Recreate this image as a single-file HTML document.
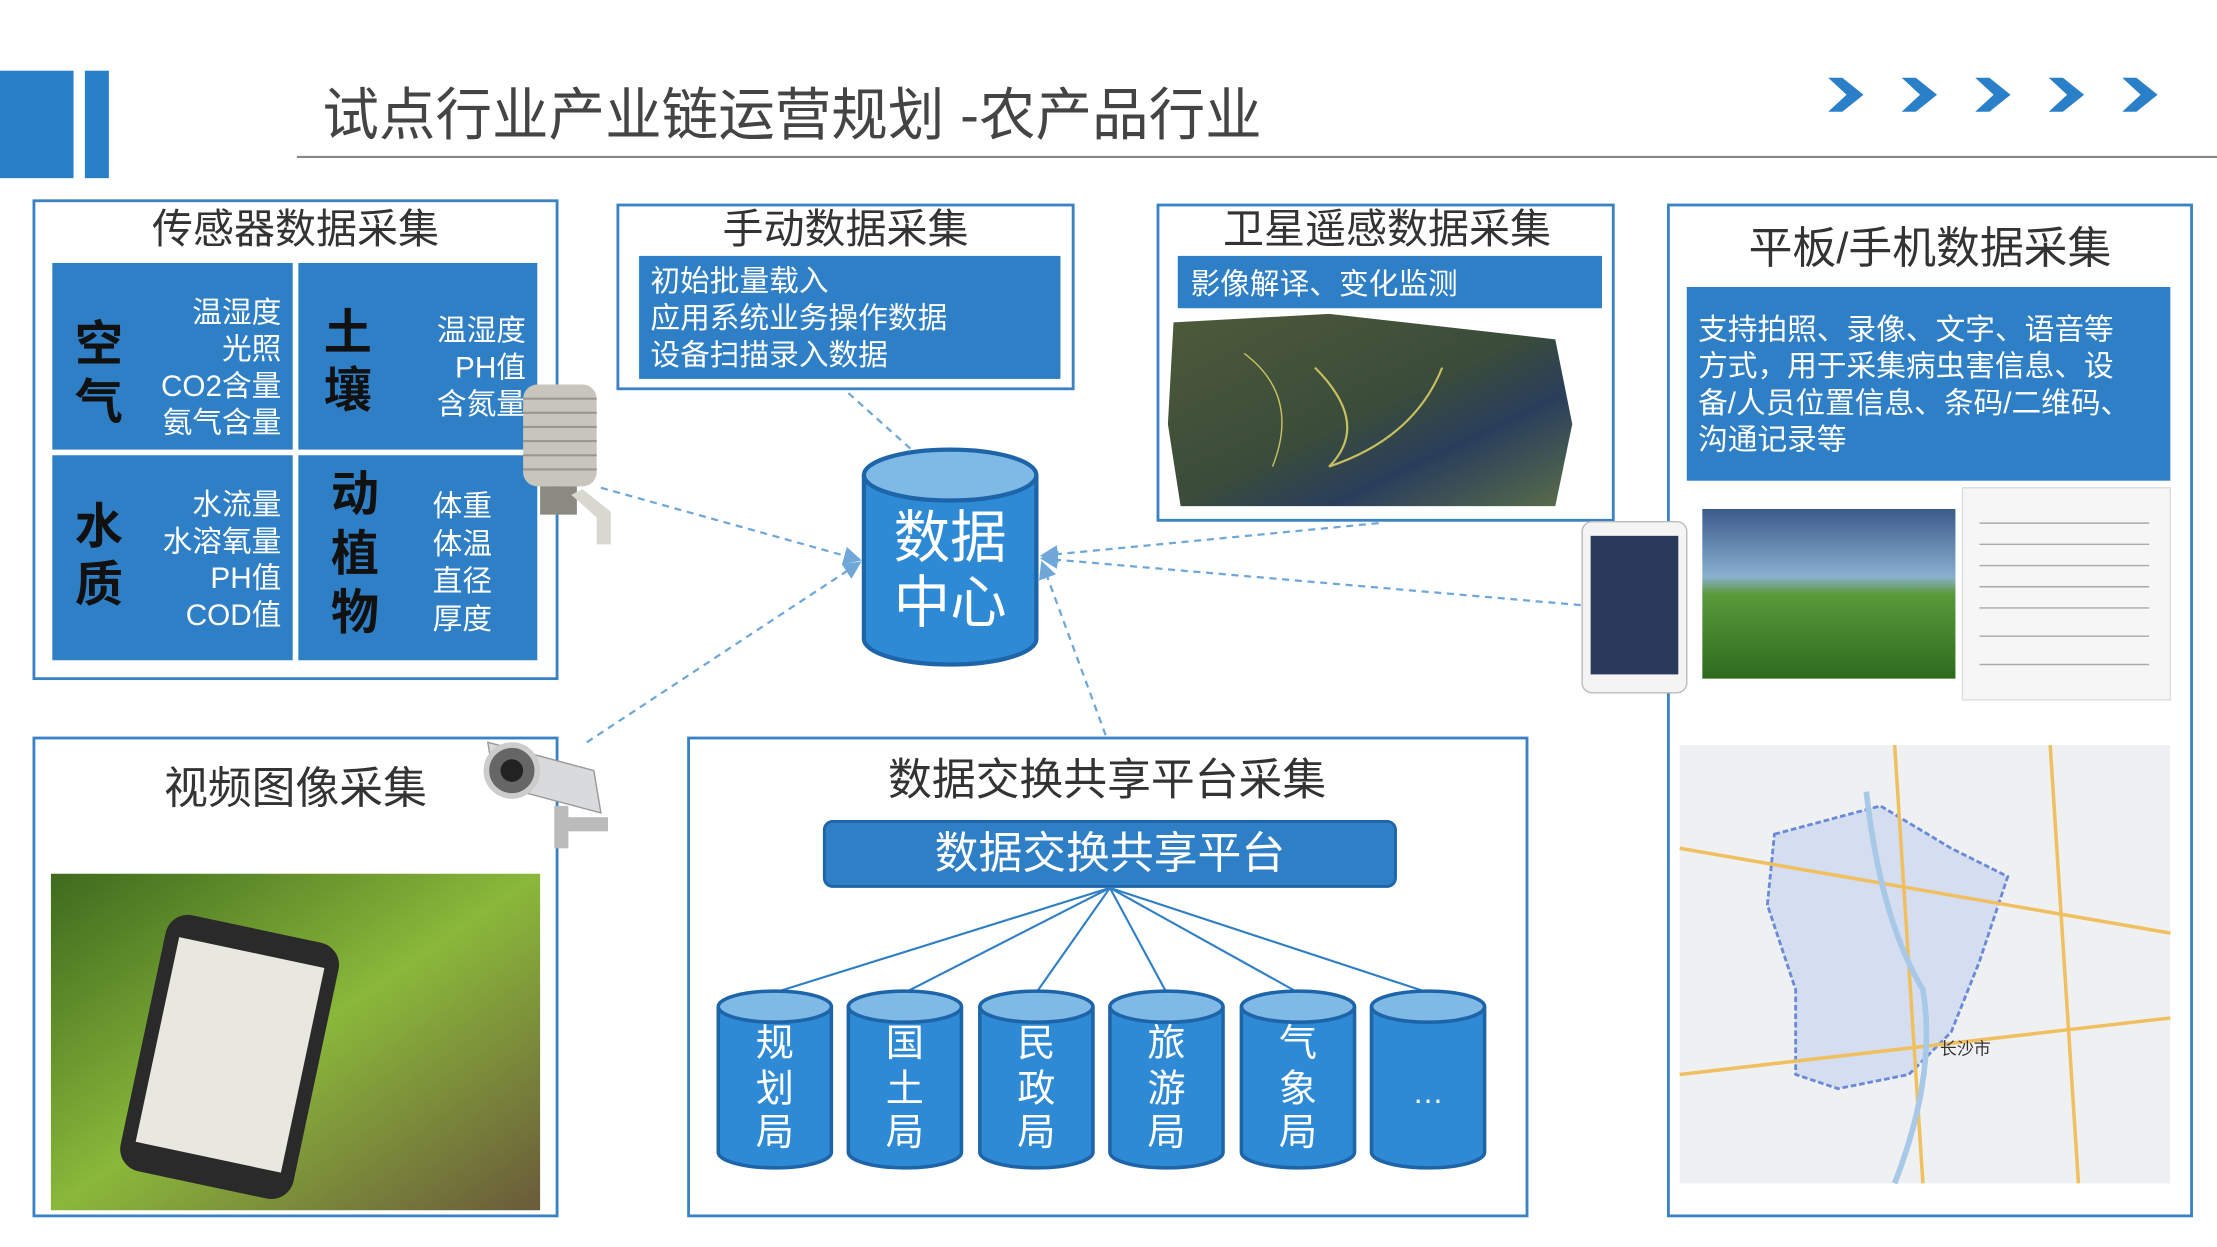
<!DOCTYPE html>
<html><head><meta charset="utf-8"><style>
html,body{margin:0;padding:0;background:#fff;}
svg{display:block;}
text{font-family:"Liberation Sans","Noto Sans CJK SC",sans-serif;}
</style></head><body>
<svg width="2217" height="1247" viewBox="0 0 1568 882" preserveAspectRatio="none" xmlns="http://www.w3.org/2000/svg">
<defs>
<marker id="ar" markerWidth="8" markerHeight="8" refX="7" refY="4" orient="auto"><path d="M0,0 L8,4 L0,8 Z" fill="#6fa8d8"/></marker>
<linearGradient id="sat" x1="0" y1="0" x2="1" y2="1"><stop offset="0" stop-color="#4e5a3a"/><stop offset="0.5" stop-color="#3a4c3a"/><stop offset="0.7" stop-color="#2a3e5c"/><stop offset="1" stop-color="#5a6e4a"/></linearGradient>
<linearGradient id="gh" x1="0" y1="0" x2="0" y2="1"><stop offset="0" stop-color="#3a5a8a"/><stop offset="0.4" stop-color="#8ab0d0"/><stop offset="0.5" stop-color="#5a9a3a"/><stop offset="1" stop-color="#2e6a1e"/></linearGradient>
<linearGradient id="corn" x1="0" y1="0" x2="1" y2="1"><stop offset="0" stop-color="#3e6a1e"/><stop offset="0.5" stop-color="#8ab83a"/><stop offset="1" stop-color="#6a5a3a"/></linearGradient>
</defs>
<!-- header -->
<rect x="0" y="50" width="52" height="76" fill="#2a7fc9"/>
<rect x="60" y="50" width="17" height="76" fill="#2a7fc9"/>
<text x="228" y="95" font-size="40" fill="#444">试点行业产业链运营规划 -农产品行业</text>
<line x1="210" y1="111" x2="1568" y2="111" stroke="#888" stroke-width="1.5"/>
<g fill="#2a7fc9">
<path d="M1293 55 L1303 55 L1318 67 L1303 79 L1293 79 L1306 67 Z"/>
<path d="M1345 55 L1355 55 L1370 67 L1355 79 L1345 79 L1358 67 Z"/>
<path d="M1397 55 L1407 55 L1422 67 L1407 79 L1397 79 L1410 67 Z"/>
<path d="M1449 55 L1459 55 L1474 67 L1459 79 L1449 79 L1462 67 Z"/>
<path d="M1501 55 L1511 55 L1526 67 L1511 79 L1501 79 L1514 67 Z"/>
</g>

<!-- dashed connectors -->
<g stroke="#6fa8d8" stroke-width="1.6" stroke-dasharray="5,4" fill="none" marker-end="url(#ar)">
<line x1="425" y1="345" x2="608" y2="396"/>
<line x1="415" y1="525" x2="608" y2="398"/>
<line x1="600" y1="278" x2="667" y2="338"/>
<line x1="975" y1="370" x2="737" y2="393"/>
<line x1="1118" y1="428" x2="737" y2="395"/>
<line x1="782" y1="520" x2="737" y2="398"/>
</g>

<!-- sensor box -->
<rect x="24" y="142" width="370" height="338" fill="#fff" stroke="#3b82c4" stroke-width="2"/>
<text x="209" y="172" font-size="29" fill="#333" text-anchor="middle">传感器数据采集</text>
<rect x="37" y="186" width="170" height="132" fill="#2e7fc6"/>
<rect x="211" y="186" width="169" height="132" fill="#2e7fc6"/>
<rect x="37" y="322" width="170" height="145" fill="#2e7fc6"/>
<rect x="211" y="322" width="169" height="145" fill="#2e7fc6"/>
<g font-size="34" font-weight="bold" fill="#111" text-anchor="middle">
<text x="70" y="255">空</text><text x="70" y="296">气</text>
<text x="246" y="247">土</text><text x="246" y="288">壤</text>
<text x="70" y="384">水</text><text x="70" y="425">质</text>
<text x="251" y="361">动</text><text x="251" y="403">植</text><text x="251" y="445">物</text>
</g>
<g font-size="21" fill="#fff" text-anchor="end">
<text x="199" y="228">温湿度</text><text x="199" y="254">光照</text><text x="199" y="280">CO2含量</text><text x="199" y="306">氨气含量</text>
<text x="372" y="241">温湿度</text><text x="372" y="267">PH值</text><text x="372" y="293">含氮量</text>
<text x="199" y="364">水流量</text><text x="199" y="390">水溶氧量</text><text x="199" y="416">PH值</text><text x="199" y="442">COD值</text>
</g>
<g font-size="21" fill="#fff"><text x="306" y="365">体重</text><text x="306" y="392">体温</text><text x="306" y="418">直径</text><text x="306" y="445">厚度</text></g>
<!-- sensor device -->
<g>
<rect x="370" y="272" width="52" height="72" rx="10" fill="#c8c6bc"/>
<g stroke="#9a988e" stroke-width="1.5"><line x1="370" y1="282" x2="422" y2="282"/><line x1="370" y1="292" x2="422" y2="292"/><line x1="370" y1="302" x2="422" y2="302"/><line x1="370" y1="312" x2="422" y2="312"/><line x1="370" y1="322" x2="422" y2="322"/><line x1="370" y1="332" x2="422" y2="332"/></g>
<rect x="382" y="344" width="26" height="20" fill="#8a8a80"/>
<path d="M404 350 L422 366 L422 385 L432 385 L432 362 L412 346 Z" fill="#d8d8d0"/>
</g>

<!-- manual box -->
<rect x="437" y="145" width="322" height="130" fill="#fff" stroke="#3b82c4" stroke-width="2"/>
<text x="598" y="172" font-size="29" fill="#333" text-anchor="middle">手动数据采集</text>
<rect x="452" y="181" width="298" height="87" fill="#2e7fc6"/>
<g font-size="21" fill="#fff"><text x="460" y="206">初始批量载入</text><text x="460" y="232">应用系统业务操作数据</text><text x="460" y="258">设备扫描录入数据</text></g>

<!-- satellite box -->
<rect x="819" y="145" width="322" height="223" fill="#fff" stroke="#3b82c4" stroke-width="2"/>
<text x="981" y="172" font-size="29" fill="#333" text-anchor="middle">卫星遥感数据采集</text>
<rect x="833" y="181" width="300" height="37" fill="#2e7fc6"/>
<text x="842" y="208" font-size="21" fill="#fff">影像解译、变化监测</text>
<path d="M830 228 L940 222 L1100 240 L1112 300 L1100 358 L835 358 L826 300 Z" fill="url(#sat)"/>
<path d="M930 260 Q970 300 940 330 Q1000 310 1020 260" stroke="#c8c060" stroke-width="1.5" fill="none"/>
<path d="M880 250 Q920 280 900 330" stroke="#c8c060" stroke-width="1" fill="none"/>

<!-- data center cylinder -->
<path d="M611 336 L611 452 A61 18 0 0 0 733 452 L733 336" fill="#2e8ad4" stroke="#1e64a8" stroke-width="3"/>
<ellipse cx="672" cy="336" rx="61" ry="18" fill="#7fb9e6" stroke="#1e64a8" stroke-width="3"/>
<text x="672" y="394" font-size="40" fill="#fff" text-anchor="middle">数据</text>
<text x="672" y="440" font-size="40" fill="#fff" text-anchor="middle">中心</text>

<!-- tablet box -->
<rect x="1180" y="145" width="370" height="715" fill="#fff" stroke="#3b82c4" stroke-width="2"/>
<text x="1365" y="186" font-size="31" fill="#333" text-anchor="middle">平板/手机数据采集</text>
<rect x="1193" y="203" width="342" height="137" fill="#2e7fc6"/>
<g font-size="21" fill="#fff"><text x="1201" y="240">支持拍照、录像、文字、语音等</text><text x="1201" y="266">方式，用于采集病虫害信息、设</text><text x="1201" y="292">备/人员位置信息、条码/二维码、</text><text x="1201" y="318">沟通记录等</text></g>
<rect x="1204" y="360" width="179" height="120" fill="url(#gh)"/>
<rect x="1388" y="345" width="147" height="150" fill="#f6f6f6" stroke="#ddd"/>
<g stroke="#aaa" stroke-width="1"><line x1="1400" y1="370" x2="1520" y2="370"/><line x1="1400" y1="385" x2="1520" y2="385"/><line x1="1400" y1="400" x2="1520" y2="400"/><line x1="1400" y1="415" x2="1520" y2="415"/><line x1="1400" y1="430" x2="1520" y2="430"/><line x1="1400" y1="450" x2="1520" y2="450"/><line x1="1400" y1="470" x2="1520" y2="470"/></g>
<rect x="1188" y="527" width="347" height="310" fill="#eef0f2"/>
<path d="M1255 590 L1330 570 L1380 600 L1420 620 L1400 680 L1380 730 L1350 760 L1300 770 L1270 760 L1270 700 L1250 640 Z" fill="#d4def0" stroke="#6a8ad8" stroke-width="2" stroke-dasharray="4,2"/>
<g stroke="#f0c060" stroke-width="2.5" fill="none"><path d="M1188 600 L1535 660"/><path d="M1340 527 L1360 837"/><path d="M1188 760 L1535 720"/><path d="M1450 527 L1470 837"/></g>
<path d="M1320 560 Q1330 650 1360 700 Q1370 760 1340 837" stroke="#a8c8e8" stroke-width="4" fill="none"/>
<text x="1372" y="746" font-size="12" fill="#333">长沙市</text>
<!-- tablet device -->
<rect x="1119" y="369" width="74" height="121" rx="7" fill="#f4f4f4" stroke="#bbb"/>
<rect x="1125" y="379" width="62" height="98" fill="#2a3a5a"/>

<!-- video box -->
<rect x="24" y="522" width="370" height="338" fill="#fff" stroke="#3b82c4" stroke-width="2"/>
<text x="209" y="568" font-size="31" fill="#333" text-anchor="middle">视频图像采集</text>
<rect x="36" y="618" width="346" height="238" fill="url(#corn)"/>
<rect x="100" y="655" width="125" height="185" rx="16" fill="#2a2a2a" transform="rotate(12 162 747)"/>
<rect x="110" y="672" width="105" height="148" fill="#e8e8e0" transform="rotate(12 162 747)"/>
<!-- camera -->
<g>
<path d="M345 525 L420 545 L425 575 L350 555 Z" fill="#d8dadc" stroke="#999"/>
<circle cx="362" cy="545" r="18" fill="#666" stroke="#ccc" stroke-width="4"/>
<circle cx="362" cy="545" r="8" fill="#222"/>
<rect x="392" y="570" width="10" height="30" fill="#bbb"/>
<rect x="400" y="578" width="30" height="10" fill="#bbb"/>
</g>

<!-- exchange box -->
<rect x="487" y="522" width="593" height="338" fill="#fff" stroke="#3b82c4" stroke-width="2"/>
<text x="783" y="562" font-size="31" fill="#333" text-anchor="middle">数据交换共享平台采集</text>
<rect x="583" y="581" width="404" height="46" rx="6" fill="#2e7fc6" stroke="#1e64a8" stroke-width="2"/>
<text x="785" y="614" font-size="31" fill="#fff" text-anchor="middle">数据交换共享平台</text>
<g stroke="#2e7fc6" stroke-width="1.5">
<line x1="785" y1="628" x2="548" y2="702"/><line x1="785" y1="628" x2="640" y2="702"/><line x1="785" y1="628" x2="733" y2="702"/><line x1="785" y1="628" x2="825" y2="702"/><line x1="785" y1="628" x2="918" y2="702"/><line x1="785" y1="628" x2="1010" y2="702"/>
</g>
<g stroke="#1e64a8" stroke-width="2.5">
<path d="M508 712 L508 815 A40 11 0 0 0 588 815 L588 712" fill="#2e8ad4"/><ellipse cx="548" cy="712" rx="40" ry="11" fill="#7fb9e6"/>
<path d="M600 712 L600 815 A40 11 0 0 0 680 815 L680 712" fill="#2e8ad4"/><ellipse cx="640" cy="712" rx="40" ry="11" fill="#7fb9e6"/>
<path d="M693 712 L693 815 A40 11 0 0 0 773 815 L773 712" fill="#2e8ad4"/><ellipse cx="733" cy="712" rx="40" ry="11" fill="#7fb9e6"/>
<path d="M785 712 L785 815 A40 11 0 0 0 865 815 L865 712" fill="#2e8ad4"/><ellipse cx="825" cy="712" rx="40" ry="11" fill="#7fb9e6"/>
<path d="M878 712 L878 815 A40 11 0 0 0 958 815 L958 712" fill="#2e8ad4"/><ellipse cx="918" cy="712" rx="40" ry="11" fill="#7fb9e6"/>
<path d="M970 712 L970 815 A40 11 0 0 0 1050 815 L1050 712" fill="#2e8ad4"/><ellipse cx="1010" cy="712" rx="40" ry="11" fill="#7fb9e6"/>
</g>
<g font-size="27" fill="#fff" text-anchor="middle">
<text x="548" y="747">规</text><text x="548" y="779">划</text><text x="548" y="810">局</text>
<text x="640" y="747">国</text><text x="640" y="779">土</text><text x="640" y="810">局</text>
<text x="733" y="747">民</text><text x="733" y="779">政</text><text x="733" y="810">局</text>
<text x="825" y="747">旅</text><text x="825" y="779">游</text><text x="825" y="810">局</text>
<text x="918" y="747">气</text><text x="918" y="779">象</text><text x="918" y="810">局</text>
<text x="1010" y="780" font-size="22">…</text>
</g>
</svg>
</body></html>
